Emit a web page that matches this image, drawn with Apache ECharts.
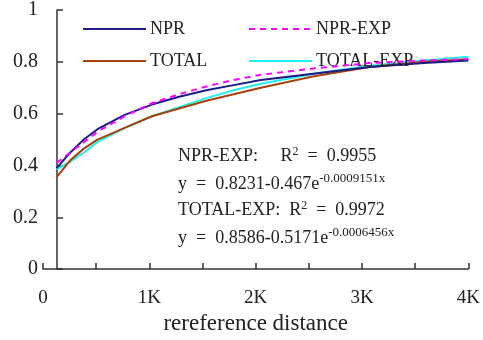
<!DOCTYPE html>
<html><head><meta charset="utf-8">
<script src="https://cdn.jsdelivr.net/npm/echarts@6/dist/echarts.min.js"></script>
<style>html,body{margin:0;padding:0;background:#fff}#c{width:483px;height:340px}</style>
</head><body><div id="c"></div>
<script>
const distances = [128, 256, 384, 512, 768, 1024, 1280, 1536, 1792, 2048, 2560, 3072, 3584, 4000];
const npr      = [0.39, 0.45, 0.50, 0.54, 0.595, 0.635, 0.665, 0.69, 0.71, 0.73, 0.755, 0.78, 0.795, 0.805];
const nprExp   = [0.41, 0.45, 0.49, 0.53, 0.59, 0.64, 0.675, 0.705, 0.73, 0.75, 0.775, 0.795, 0.805, 0.81];
const total    = [0.355, 0.42, 0.465, 0.50, 0.545, 0.59, 0.62, 0.65, 0.675, 0.70, 0.745, 0.78, 0.80, 0.81];
const totalExp = [0.385, 0.415, 0.45, 0.49, 0.545, 0.59, 0.625, 0.66, 0.69, 0.715, 0.755, 0.785, 0.805, 0.82];
const xTickLabels = {0: '0', 1000: '1K', 2000: '2K', 3000: '3K', 4000: '4K'};
const fontSerif = '"Liberation Serif", "DejaVu Serif", serif';

function pts(arr){ return distances.map((d,i)=>[d, arr[i]]); }

const chart = echarts.init(document.getElementById('c'), null, {renderer:'canvas'});
const axisCol = '#333';
const txt = '#222';
const legendCommon = {orient:'vertical', top:20, padding:0, itemWidth:63, itemHeight:14, itemGap:14,
  itemStyle:{opacity:0}, textStyle:{fontFamily:fontSerif, fontSize:18, color:txt, padding:[0,0,0,-1]}};
chart.setOption({
  animation:false,
  grid:{left:43, right:9, top:7, bottom:68, containLabel:false},
  xAxis:{
    type:'value', min:0, max:4000, interval:500,
    axisLine:{show:true, lineStyle:{color:axisCol, width:1.5}},
    axisTick:{show:true, inside:true, length:6, lineStyle:{color:axisCol, width:1.5}},
    splitLine:{show:false},
    axisLabel:{margin:19, color:txt, fontFamily:fontSerif, fontSize:19,
      formatter:v=> (xTickLabels[v] !== undefined ? xTickLabels[v] : '')},
    name:'rereference distance', nameLocation:'middle', nameGap:39,
    nameTextStyle:{color:txt, fontFamily:fontSerif, fontSize:23}
  },
  yAxis:{
    type:'value', min:0, max:1, interval:0.2, offset:-14,
    axisLine:{show:true, lineStyle:{color:axisCol, width:1.5}},
    axisTick:{show:true, inside:true, length:6, lineStyle:{color:axisCol, width:1.5}},
    splitLine:{show:false},
    axisLabel:{margin:19, color:txt, fontFamily:fontSerif, fontSize:20}
  },
  legend:[
    Object.assign({data:['NPR','TOTAL'], left:82}, legendCommon),
    Object.assign({data:['NPR-EXP','TOTAL-EXP'], left:248}, legendCommon)
  ],
  series:[
    {name:'NPR', type:'line', data:pts(npr), symbol:'none', lineStyle:{color:'#1c1c84', width:2}, itemStyle:{color:'#1c1c84'}, z:3},
    {name:'TOTAL', type:'line', data:pts(total), symbol:'none', lineStyle:{color:'#a4420c', width:2}, itemStyle:{color:'#a4420c'}, z:2},
    {name:'NPR-EXP', type:'line', data:pts(nprExp), symbol:'none', lineStyle:{color:'#ff00ff', width:2, type:[6,5]}, itemStyle:{color:'#ff00ff'}, z:4},
    {name:'TOTAL-EXP', type:'line', data:pts(totalExp), symbol:'none', lineStyle:{color:'#22eeee', width:2}, itemStyle:{color:'#22eeee'}, z:1}
  ],
  graphic:[
    {type:'text', left:178, top:146, style:{text:'{a|NPR-EXP:     R}{s|2}{a|  =  0.9955}',
      rich:{a:{fontFamily:fontSerif, fontSize:18, fill:txt}, s:{fontFamily:fontSerif, fontSize:12, fill:txt, padding:[0,0,9,0]}}}},
    {type:'text', left:178, top:172, style:{text:'{a|y  =  0.8231-0.467e}{s|-0.0009151x}',
      rich:{a:{fontFamily:fontSerif, fontSize:18, fill:txt}, s:{fontFamily:fontSerif, fontSize:13, fill:txt, padding:[0,0,11,0]}}}},
    {type:'text', left:178, top:200, style:{text:'{a|TOTAL-EXP:  R}{s|2}{a|  =  0.9972}',
      rich:{a:{fontFamily:fontSerif, fontSize:18, fill:txt}, s:{fontFamily:fontSerif, fontSize:12, fill:txt, padding:[0,0,9,0]}}}},
    {type:'text', left:178, top:226, style:{text:'{a|y  =  0.8586-0.5171e}{s|-0.0006456x}',
      rich:{a:{fontFamily:fontSerif, fontSize:18, fill:txt}, s:{fontFamily:fontSerif, fontSize:13, fill:txt, padding:[0,0,11,0]}}}}
  ]
});
</script></body></html>
